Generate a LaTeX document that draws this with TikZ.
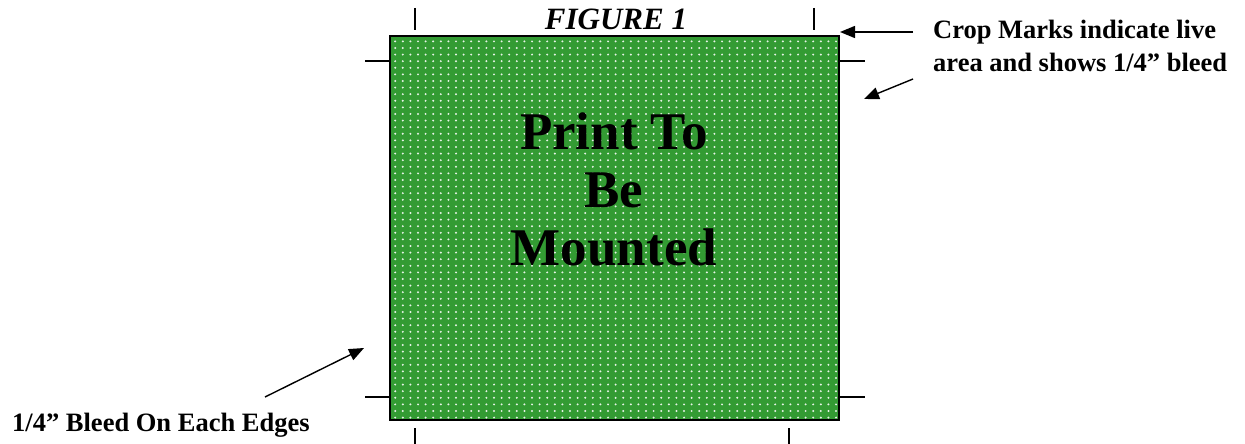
\documentclass[tikz,border=0pt]{standalone}
\usepackage{fontspec}
\setmainfont{Liberation Serif}
\usetikzlibrary{arrows.meta,patterns.meta}
\definecolor{printgreen}{RGB}{51,155,51}
\tikzdeclarepattern{name=printdots, type=uncolored,
  bottom left={(-1.2pt,-1.2pt)}, top right={(1.2pt,1.2pt)}, tile size={(7.6pt,6.6pt)},
  code={\fill (0pt,0pt) circle (1.1pt);}}
\tikzset{cropmark/.style = {line width=1.2pt},
           pointer/.style = {line width=1.4pt, -{Triangle[length=15pt, width=12pt]}},
           note/.style = {inner sep=0pt, font=\fontsize{26.5}{33}\selectfont\bfseries, align=left},
           page/.style = {draw, line width=2.2pt, preaction={fill=printgreen},
                          pattern=printdots, pattern color=white!88!printgreen,
                          minimum width=449pt, minimum height=384pt, inner sep=0pt}}

\begin{document}
\begin{tikzpicture}[x=1pt, y=-1pt]
    \useasboundingbox (0,0) rectangle (1245,444);
    % the print
    \node[page] (pg) at (614.5,228) {};
    \node[inner sep=0pt, font=\fontsize{53}{58}\selectfont\bfseries, align=center] (title) at (614,189)
        {Print To\\Be\\Mounted};
    \node[inner sep=0pt, anchor=base, font=\fontsize{31}{36}\selectfont\bfseries\itshape] (fig) at (616,30) {FIGURE 1};
    % crop marks
    \draw[cropmark] (415,8) -- (415,30);
    \draw[cropmark] (814,8) -- (814,30);
    \draw[cropmark] (415,428) -- (415,444);
    \draw[cropmark] (789,428) -- (789,444);
    \draw[cropmark] (365,61) -- (pg.west |- 0,61);
    \draw[cropmark] (pg.east |- 0,61) -- (865,61);
    \draw[cropmark] (365,397) -- (pg.west |- 0,397);
    \draw[cropmark] (pg.east |- 0,397) -- (865,397);
    % notes
    \node[note, anchor=north west] (crop) at (933,20) {Crop Marks indicate live\\area and shows 1/4” bleed};
    \node[note, anchor=base west] (bleed) at (12,431) {1/4” Bleed On Each Edges};
    \coordinate (c1) at (913,32);
    \coordinate (h1) at (840,32);
    \coordinate (c2) at (913,79);
    \coordinate (h2) at (864,99);
    \coordinate (c3) at (265,397);
    \coordinate (h3) at (364,348);
    \draw[pointer] (c1) -- (h1);
    \draw[pointer] (c2) -- (h2);
    \draw[pointer] (c3) -- (h3);
\end{tikzpicture}
\end{document}
